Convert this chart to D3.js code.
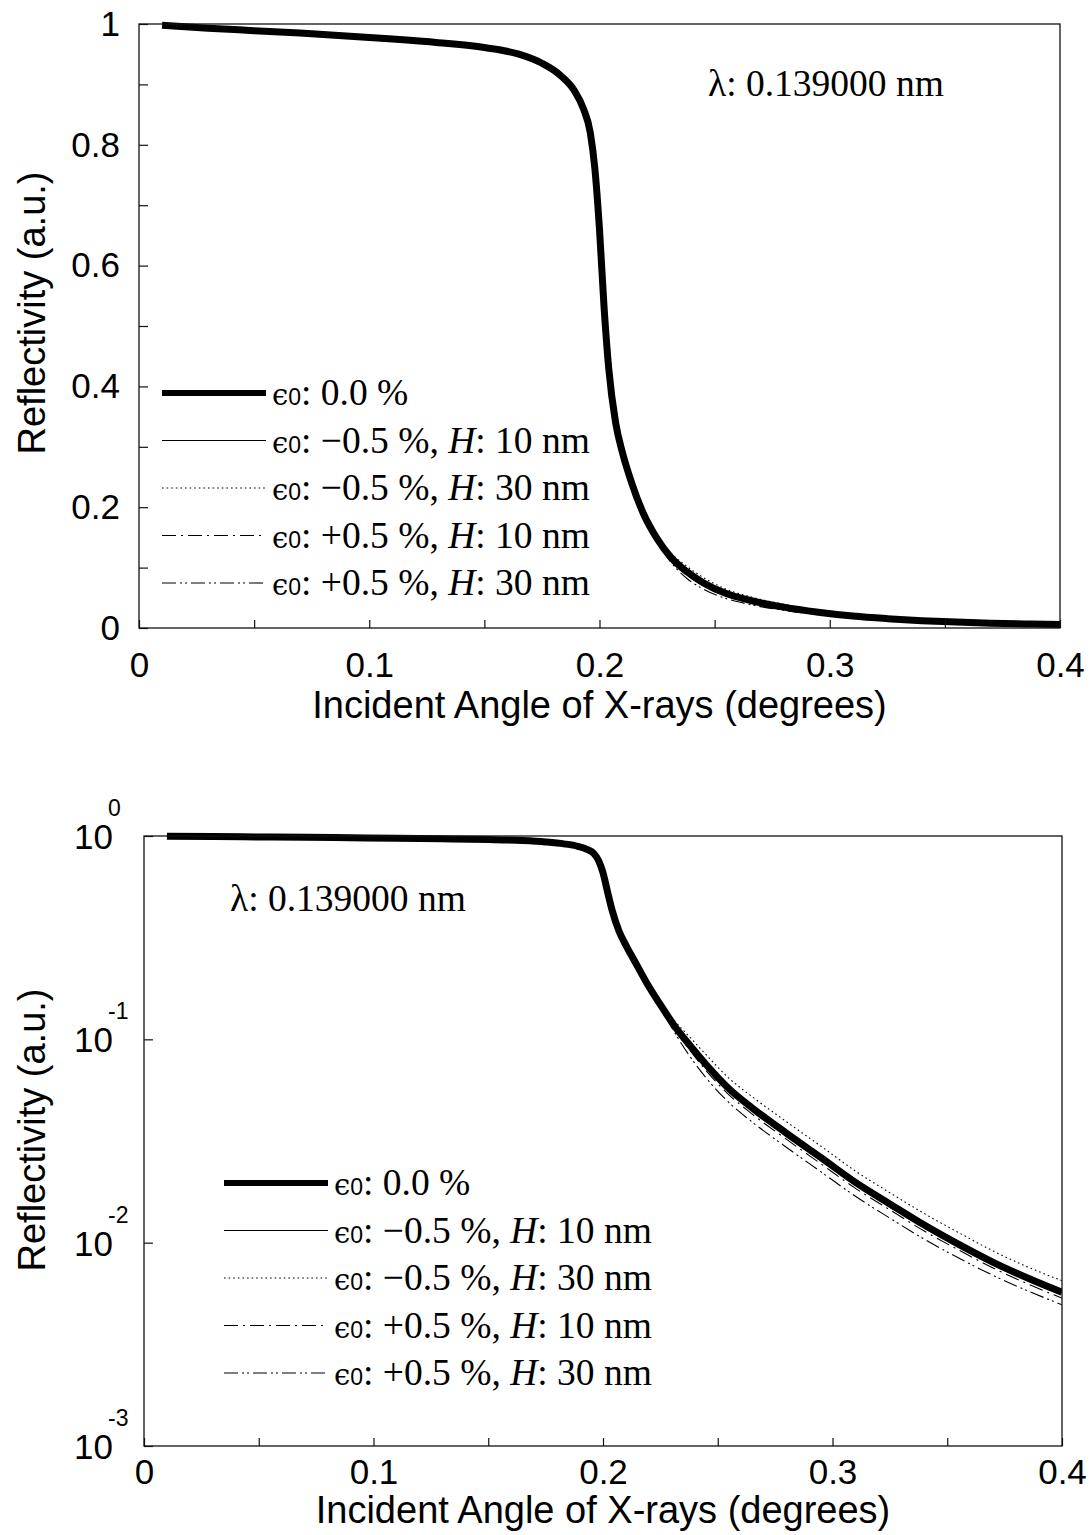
<!DOCTYPE html>
<html><head><meta charset="utf-8">
<script src="https://cdn.jsdelivr.net/npm/d3@7"></script>
<style>
html,body{margin:0;padding:0;background:#fff;}
svg{display:block;}
</style></head>
<body>
<svg id="chart" width="1092" height="1535"></svg>
<script>
// ---------- DATA ----------
const angles = [0.01,0.03,0.05,0.07,0.09,0.11,0.13,0.15,0.165,0.175,0.183,0.189,0.193,0.196,0.198,0.2,0.202,0.204,0.207,0.21,0.214,
  0.219,0.225,0.231,0.238,0.245,0.255,0.265,0.28,0.295,0.31,0.325,0.34,0.355,0.37,0.385,0.4];
const rEps0 = [0.998,0.993,0.989,0.985,0.980,0.975,0.969,0.961,0.950,0.935,0.915,0.89,0.86,0.82,0.76,0.66,0.53,0.43,0.34,0.29,0.24,
  0.19,0.148,0.117,0.093,0.075,0.057,0.046,0.0345,0.0262,0.0198,0.0155,0.0122,0.0098,0.0080,0.0067,0.0057];
const rM05H10 = [0.998,0.993,0.989,0.985,0.980,0.975,0.969,0.961,0.950,0.935,0.915,0.89,0.86,0.82,0.76,0.66,0.53,0.43,0.34,0.29,0.24,
  0.19,0.1485,0.118,0.0945,0.0765,0.0583,0.0472,0.0355,0.0270,0.0204,0.0160,0.0126,0.0101,0.00825,0.0069,0.00588];
const rM05H30 = [0.998,0.993,0.989,0.985,0.980,0.975,0.969,0.961,0.950,0.935,0.915,0.89,0.86,0.82,0.76,0.66,0.53,0.43,0.34,0.29,0.24,
  0.19,0.151,0.124,0.102,0.0838,0.0642,0.0522,0.0393,0.0298,0.0225,0.0176,0.0139,0.0112,0.0091,0.0076,0.0065];
const rP05H10 = [0.998,0.993,0.989,0.985,0.980,0.975,0.969,0.961,0.950,0.935,0.915,0.89,0.86,0.82,0.76,0.66,0.53,0.43,0.34,0.29,0.24,
  0.19,0.146,0.1125,0.088,0.070,0.0532,0.0429,0.0322,0.0244,0.0185,0.0145,0.0114,0.0092,0.0075,0.00627,0.00534];
const rP05H30 = [0.998,0.993,0.989,0.985,0.980,0.975,0.969,0.961,0.950,0.935,0.915,0.89,0.86,0.82,0.76,0.66,0.53,0.43,0.34,0.29,0.24,
  0.19,0.144,0.109,0.082,0.0645,0.0487,0.0392,0.0294,0.0223,0.0169,0.0132,0.0104,0.0084,0.0069,0.0058,0.00495];

const seriesEps = ["0.0 %", "\u22120.5 %", "\u22120.5 %", "+0.5 %", "+0.5 %"];
const seriesH = [null, "10 nm", "30 nm", "10 nm", "30 nm"];
const seriesValues = [rEps0, rM05H10, rM05H30, rP05H10, rP05H30];

const xTickLabels = [0, 0.1, 0.2, 0.3, 0.4];
const xMinorTicks = [0,0.05,0.1,0.15,0.2,0.25,0.3,0.35,0.4];
const yLinLabels = [0, 0.2, 0.4, 0.6, 0.8, 1];
const yLinTicks = [0,0.1,0.2,0.3,0.4,0.5,0.6,0.7,0.8,0.9,1];
const yLogTicks = [1e-3, 1e-2, 1e-1, 1];
const yLogExponents = ["-3", "-2", "-1", "0"];
const wavelengthLabel = "0.139000 nm";
const xTitle = "Incident Angle of X-rays (degrees)";
const yTitle = "Reflectivity (a.u.)";

// ---------- STYLE ----------
const styles = [
  {w: 7, dash: null},
  {w: 1.1, dash: null},
  {w: 1.1, dash: "1.6,3"},
  {w: 1.1, dash: "14,5,2,5"},
  {w: 1.1, dash: "14,4,2,3,2,4"}
];
const sans = "Liberation Sans, Arial, Helvetica, sans-serif";
const serif = "Liberation Serif, Times New Roman, serif";

const svg = d3.select("#chart");
svg.append("rect").attr("width",1092).attr("height",1535).attr("fill","#fff");

function drawPanel(cfg){
  const g = svg.append("g");
  const x = d3.scaleLinear().domain([0,0.4]).range([cfg.left, cfg.right]);
  const y = cfg.log
    ? d3.scaleLog().domain([1e-3,1]).range([cfg.bottom, cfg.top])
    : d3.scaleLinear().domain([0,1]).range([cfg.bottom, cfg.top]);

  // curves
  const clipId = "clip" + (cfg.log ? "log" : "lin");
  svg.append("clipPath").attr("id", clipId).append("rect")
    .attr("x", cfg.left).attr("y", cfg.top - 4).attr("width", cfg.right - cfg.left).attr("height", cfg.bottom - cfg.top + 4);
  const line = d3.line().x((d,i)=>x(angles[i])).y(d=>y(d)).curve(d3.curveMonotoneX);
  const cg = g.append("g").attr("clip-path", `url(#${clipId})`);
  seriesValues.forEach((vals, k) => {
    cg.append("path").attr("d", line(vals)).attr("fill","none")
      .attr("stroke","#000").attr("stroke-width", styles[k].w)
      .attr("stroke-linejoin","round")
      .attr("stroke-dasharray", styles[k].dash);
  });

  // frame
  g.append("rect").attr("x",cfg.left).attr("y",cfg.top)
    .attr("width",cfg.right-cfg.left).attr("height",cfg.bottom-cfg.top)
    .attr("fill","none").attr("stroke","#111").attr("stroke-width",1.3);

  // x ticks (inward)
  const xt = g.append("g").attr("transform",`translate(0,${cfg.bottom})`)
    .call(d3.axisBottom(x).tickValues(xMinorTicks).tickSizeInner(-8).tickSizeOuter(0).tickFormat(""));
  xt.select(".domain").remove();
  xt.selectAll("line").attr("stroke","#111").attr("stroke-width",1.2);
  const xl = g.append("g").attr("transform",`translate(0,${cfg.bottom})`)
    .call(d3.axisBottom(x).tickValues(xTickLabels).tickSize(0).tickPadding(cfg.xPad).tickFormat(d3.format("~g")));
  xl.select(".domain").remove();
  xl.selectAll("text").attr("font-family",sans).attr("font-size",35).attr("fill","#000");

  // y ticks
  if(!cfg.log){
    const yt = g.append("g").attr("transform",`translate(${cfg.left},0)`)
      .call(d3.axisLeft(y).tickValues(yLinTicks).tickSizeInner(-9).tickSizeOuter(0).tickFormat(""));
    yt.select(".domain").remove();
    yt.selectAll("line").attr("stroke","#111").attr("stroke-width",1.2);
    const yl = g.append("g").attr("transform",`translate(${cfg.left},0)`)
      .call(d3.axisLeft(y).tickValues(yLinLabels).tickSize(0).tickPadding(19).tickFormat(d3.format("~g")));
    yl.select(".domain").remove();
    yl.selectAll("text").attr("font-family",sans).attr("font-size",35).attr("fill","#000");
  } else {
    const yt = g.append("g").attr("transform",`translate(${cfg.left},0)`)
      .call(d3.axisLeft(y).tickValues(yLogTicks).tickSizeInner(-9).tickSizeOuter(0).tickFormat(""));
    yt.select(".domain").remove();
    yt.selectAll("line").attr("stroke","#111").attr("stroke-width",1.2);
    yLogTicks.forEach((v,i)=>{
      g.append("text").attr("font-family",sans).attr("fill","#000")
        .attr("x", cfg.left - 31).attr("y", y(v) + 13)
        .attr("text-anchor","end").attr("font-size",35).text("10");
      g.append("text").attr("font-family",sans).attr("fill","#000")
        .attr("x", cfg.left - 36).attr("y", y(v) - 20).attr("font-size",23).text(yLogExponents[i]);
    });
  }

  // axis titles
  g.append("text").attr("x",(cfg.left+cfg.right)/2).attr("y",cfg.bottom+cfg.titleOff)
    .attr("text-anchor","middle").attr("font-family",sans).attr("font-size",38).text(xTitle);
  g.append("text").attr("transform",`translate(45,${cfg.yTitleY}) rotate(-90)`)
    .attr("text-anchor","middle").attr("font-family",sans).attr("font-size",38).text(yTitle);

  // wavelength label
  const lt = g.append("text").attr("x",cfg.lamX).attr("y",cfg.lamY)
    .attr("font-family",serif).attr("font-size",37.5);
  lt.append("tspan").text("\u03bb");
  lt.append("tspan").text(": " + wavelengthLabel);

  // legend
  seriesValues.forEach((vals,k)=>{
    const ly = cfg.legY + k*cfg.legStep;
    g.append("line").attr("x1",cfg.legX).attr("x2",cfg.legX+104).attr("y1",ly).attr("y2",ly)
      .attr("stroke","#000").attr("stroke-width",k===0?6:styles[k].w).attr("stroke-dasharray",styles[k].dash);
    const t = g.append("text").attr("x",cfg.legX+110).attr("y",ly+12)
      .attr("font-family",serif).attr("font-size",37.5).attr("fill","#000");
    t.append("tspan").attr("font-family","DejaVu Serif, serif").attr("font-size",29).text("\u03f5");
    t.append("tspan").attr("font-family",sans).attr("font-size",23).text("0");
    t.append("tspan").text(": " + seriesEps[k]);
    if(seriesH[k]){
      t.append("tspan").text(", ");
      t.append("tspan").attr("font-style","italic").text("H");
      t.append("tspan").text(": " + seriesH[k]);
    }
  });
}

drawPanel({left:139, right:1060, top:24, bottom:628, log:false, xPad:24, titleOff:90,
  yTitleY:313, lamX:708, lamY:96, legX:162, legY:393, legStep:47.5});
drawPanel({left:144, right:1062, top:836, bottom:1446, log:true, xPad:13, titleOff:77,
  yTitleY:1130, lamX:230, lamY:911, legX:224, legY:1183, legStep:47.5});
</script>
</body></html>
